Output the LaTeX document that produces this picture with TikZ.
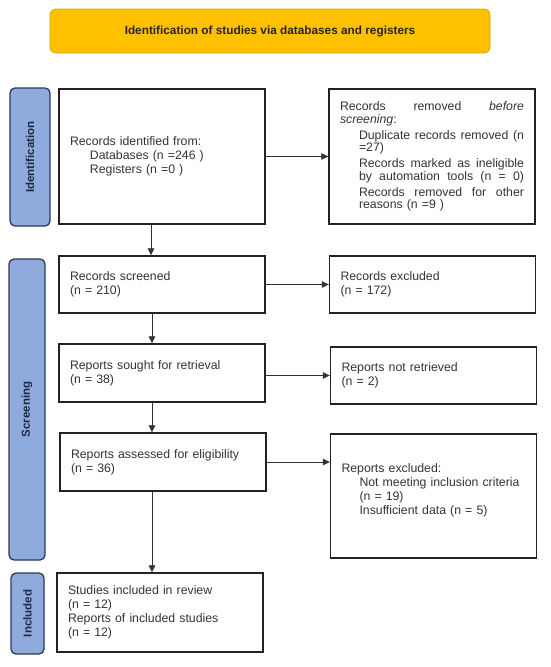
\documentclass[tikz,border=0pt]{standalone}
\usepackage{fontspec}
\setmainfont{Liberation Sans}
\usetikzlibrary{arrows.meta}
\definecolor{gold}{HTML}{FFC000}
\definecolor{goldline}{HTML}{D9A300}
\definecolor{sideblue}{HTML}{8FAADC}
\definecolor{sideline}{HTML}{2B3A55}
\definecolor{sidetext}{HTML}{1F2A40}
\definecolor{boxline}{HTML}{222222}
\definecolor{txt}{HTML}{333333}
\newcommand{\jline}[2]{\makebox[#1][s]{\spaceskip=0pt\xspaceskip=0pt\relax #2}}
\begin{document}
\begin{tikzpicture}[x=1pt,y=-1pt,
  flowbox/.style={draw=boxline, line width=1.4pt, rectangle, inner xsep=11pt, inner ysep=0pt,
    text width=184pt, align=left, font=\fontsize{12.3}{14.2}\selectfont, text=txt, anchor=center},
  sidelabel/.style={draw=sideline, fill=sideblue, line width=1.3pt, rounded corners=5pt,
    font=\fontsize{11.5}{13}\selectfont\bfseries, text=sidetext, rotate=90, inner sep=0pt, anchor=center},
  titlebox/.style={draw=goldline, fill=gold, line width=0.8pt, rounded corners=6pt,
    font=\fontsize{11.8}{14}\selectfont\bfseries, text=black!85, inner sep=0pt, anchor=center},
  arr/.style={-{Triangle[length=7pt,width=6.5pt]}, line width=0.8pt, draw=black!80}
]
\useasboundingbox (0,0) rectangle (550,667);

% title
\node[titlebox, minimum width=440pt, minimum height=44pt] (title) at (270,31)
  {Identification of studies via databases and registers};

% side labels
\node[sidelabel, minimum width=138pt, minimum height=40pt] (lid) at (30,157) {Identification};
\node[sidelabel, minimum width=301pt, minimum height=36pt] (lscr) at (27,409.5) {Screening};
\node[sidelabel, minimum width=81pt, minimum height=33pt] (linc) at (27.5,613.5) {Included};

% left column
\node[flowbox, minimum height=135pt] (b1) at (162,156.5)
  {Records identified from:\\
   \hspace*{20pt}Databases (n =246 )\\
   \hspace*{20pt}Registers (n =0 )};
\node[flowbox, minimum height=57pt] (b2) at (162,284.5)
  {Records screened\\(n = 210)};
\node[flowbox, minimum height=58pt] (b3) at (162,373)
  {Reports sought for retrieval\\(n = 38)};
\node[flowbox, minimum height=58pt] (b4) at (163,462)
  {Reports assessed for eligibility\\(n = 36)};
\node[flowbox, minimum height=79pt] (b5) at (160,612.5)
  {Studies included in review\\(n = 12)\\Reports of included studies\\(n = 12)};

% right column
\node[flowbox, minimum height=135pt, font=\fontsize{12.3}{12.5}\selectfont] (r1) at (432,156.5)
  {\jline{184pt}{Records removed \textit{before}}\\
   \textit{screening}:\\[3.5pt]
   \hspace*{19pt}\jline{165pt}{Duplicate records removed (n}\\
   \hspace*{19pt}=27)\\[3.5pt]
   \hspace*{19pt}\jline{165pt}{Records marked as ineligible}\\
   \hspace*{19pt}\jline{165pt}{by automation tools (n = 0)}\\[3.5pt]
   \hspace*{19pt}\jline{165pt}{Records removed for other}\\
   \hspace*{19pt}reasons (n =9 )};
\node[flowbox, minimum height=57pt] (r2) at (432.5,284.5)
  {Records excluded\\(n = 172)};
\node[flowbox, minimum height=57pt] (r3) at (433.5,375.5)
  {Reports not retrieved\\(n = 2)};
\node[flowbox, minimum height=124pt] (r4) at (433.5,496)
  {Reports excluded:\\
   \hspace*{18pt}Not meeting inclusion criteria\\
   \hspace*{18pt}(n = 19)\\
   \hspace*{18pt}Insufficient data (n = 5)\\
   \mbox{}};

% vertical arrows
\draw[arr] ([xshift=-11pt]b1.south) -- ([xshift=-11pt]b1.south |- b2.north);
\draw[arr] ([xshift=-10pt]b2.south) -- ([xshift=-10pt]b2.south |- b3.north);
\draw[arr] ([xshift=-10pt]b3.south) -- ([xshift=-10pt]b3.south |- b4.north);
\draw[arr] ([xshift=-11pt]b4.south) -- ([xshift=-11pt]b4.south |- b5.north);

% horizontal arrows
\draw[arr] (b1.east) -- (b1.east -| r1.west);
\draw[arr] (b2.east) -- (b2.east -| r2.west);
\draw[arr] (r3.west -| b3.east) -- (r3.west);
\draw[arr] (b4.east) -- (b4.east -| r4.west);
\end{tikzpicture}
\end{document}
